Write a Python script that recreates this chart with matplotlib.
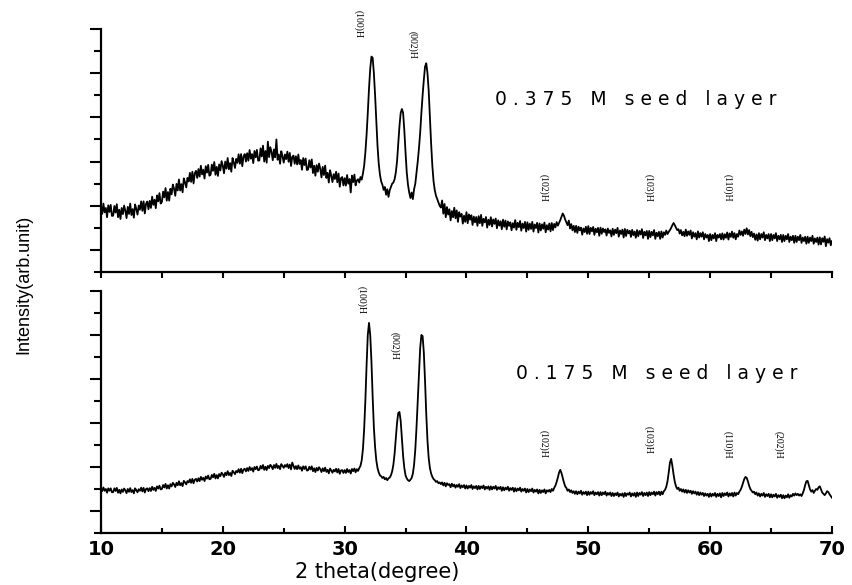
import numpy as np
import matplotlib
matplotlib.use("Agg")
import matplotlib.pyplot as plt
from matplotlib.ticker import MultipleLocator

# 2 theta sampling (degree), one point every 0.1 deg
two_theta = np.linspace(10, 70, 601)

# Intensity (arb. unit), 0.375 M seed layer
# one row = one degree (10.0 ... 10.9, 11.0 ... 11.9, ...)
intensity_0375 = [
    299, 263, 310, 270, 290, 248, 302, 272, 304, 254,
    255, 299, 269, 307, 248, 282, 240, 290, 262, 301,
    278, 244, 295, 263, 310, 258, 285, 246, 306, 286,
    260, 301, 282, 320, 277, 320, 265, 309, 319, 284,
    322, 290, 341, 304, 327, 289, 347, 320, 357, 310,
    317, 364, 338, 380, 323, 362, 323, 377, 352, 396,
    377, 345, 399, 369, 419, 369, 398, 361, 424, 406,
    383, 426, 410, 449, 408, 454, 401, 447, 458, 426,
    466, 432, 481, 442, 463, 423, 479, 450, 485, 436,
    441, 486, 458, 498, 440, 476, 435, 487, 460, 502,
    481, 447, 500, 468, 516, 465, 493, 454, 516, 496,
    471, 512, 494, 533, 490, 534, 479, 523, 534, 500,
    538, 504, 552, 513, 534, 493, 548, 519, 553, 504,
    505, 560, 523, 572, 500, 548, 495, 590, 520, 565,
    544, 506, 555, 519, 600, 508, 532, 490, 547, 524,
    495, 532, 511, 545, 499, 539, 480, 521, 527, 490,
    524, 487, 532, 489, 507, 463, 516, 484, 514, 462,
    464, 506, 473, 510, 448, 481, 436, 484, 454, 491,
    467, 428, 476, 439, 482, 426, 449, 405, 461, 437,
    407, 443, 421, 454, 406, 446, 386, 425, 430, 392,
    425, 391, 439, 400, 421, 360, 436, 407, 441, 392,
    414, 420, 405, 430, 418, 445, 480, 540, 620, 720,
    830, 920, 975, 970, 900, 800, 680, 570, 490, 440,
    410, 395, 372, 385, 350, 375, 340, 370, 385, 400,
    405, 420, 450, 500, 580, 660, 720, 738, 720, 640,
    540, 450, 395, 360, 335, 360, 330, 375, 400, 450,
    500, 560, 630, 720, 800, 870, 930, 945, 900, 820,
    700, 580, 480, 410, 370, 345, 330, 315, 300, 292,
    324, 264, 308, 248, 294, 260, 284, 234, 276, 248,
    291, 243, 279, 227, 271, 251, 263, 219, 255, 227,
    271, 221, 261, 237, 257, 213, 251, 225, 249, 209,
    253, 221, 259, 209, 241, 225, 249, 201, 237, 213,
    248, 206, 238, 218, 242, 198, 234, 210, 230, 194,
    237, 205, 233, 193, 229, 209, 225, 189, 221, 201,
    235, 191, 223, 203, 231, 187, 219, 199, 227, 183,
    225, 191, 219, 195, 227, 183, 215, 199, 223, 179,
    220, 188, 216, 196, 224, 180, 212, 192, 220, 184,
    222, 190, 218, 202, 226, 210, 222, 235, 250, 265,
    255, 238, 225, 212, 233, 197, 217, 189, 209, 181,
    209, 177, 205, 189, 201, 169, 197, 181, 205, 173,
    208, 172, 200, 184, 204, 168, 196, 180, 200, 164,
    201, 173, 197, 181, 193, 165, 197, 177, 189, 161,
    196, 168, 192, 176, 200, 160, 188, 172, 192, 156,
    195, 163, 191, 175, 187, 159, 191, 167, 183, 155,
    190, 162, 186, 170, 194, 154, 182, 166, 186, 150,
    186, 158, 182, 166, 190, 150, 178, 162, 182, 150,
    184, 156, 180, 168, 188, 172, 182, 190, 200, 212,
    222, 212, 200, 190, 194, 174, 190, 166, 182, 162,
    192, 164, 184, 168, 188, 152, 180, 160, 176, 148,
    184, 156, 176, 160, 180, 148, 172, 156, 168, 140,
    172, 144, 168, 152, 176, 140, 168, 156, 172, 148,
    175, 147, 171, 155, 179, 147, 175, 159, 183, 155,
    176, 148, 172, 160, 188, 168, 184, 164, 192, 172,
    198, 170, 190, 162, 182, 158, 174, 146, 170, 142,
    176, 148, 172, 156, 180, 144, 168, 152, 172, 140,
    172, 144, 168, 152, 176, 140, 164, 148, 168, 136,
    168, 140, 164, 148, 172, 136, 160, 144, 164, 132,
    164, 136, 160, 144, 168, 132, 156, 140, 160, 128,
    160, 132, 156, 140, 164, 128, 152, 136, 156, 124,
    157, 125, 153, 137, 161, 117, 149, 133, 153, 121,
    140,
]

# Intensity (arb. unit), 0.175 M seed layer
intensity_0175 = [
    204, 190, 207, 192, 200, 183, 203, 192, 203, 185,
    186, 203, 191, 205, 183, 196, 180, 198, 187, 202,
    194, 181, 200, 187, 204, 186, 195, 180, 203, 195,
    185, 199, 192, 206, 189, 205, 184, 200, 203, 190,
    204, 191, 210, 196, 205, 191, 212, 202, 215, 198,
    200, 218, 207, 223, 202, 217, 202, 222, 212, 228,
    221, 209, 228, 217, 235, 217, 227, 213, 237, 230,
    221, 236, 230, 244, 228, 246, 226, 242, 246, 234,
    249, 236, 255, 242, 251, 236, 257, 247, 261, 244,
    246, 264, 253, 269, 248, 263, 248, 268, 258, 274,
    267, 255, 274, 263, 281, 263, 273, 259, 283, 276,
    267, 282, 276, 290, 274, 292, 272, 288, 292, 280,
    295, 282, 300, 286, 295, 279, 300, 290, 302, 285,
    287, 305, 293, 309, 287, 301, 286, 305, 295, 310,
    303, 290, 309, 296, 314, 295, 305, 290, 313, 305,
    296, 309, 301, 313, 295, 311, 289, 320, 305, 291,
    304, 290, 307, 292, 299, 283, 303, 291, 303, 284,
    285, 301, 289, 303, 281, 294, 277, 296, 284, 299,
    290, 277, 294, 281, 297, 278, 287, 271, 293, 284,
    274, 287, 280, 292, 275, 291, 269, 284, 286, 273,
    286, 273, 291, 277, 286, 270, 291, 281, 293, 276,
    290, 282, 295, 305, 330, 380, 470, 600, 760, 900,
    955, 900, 780, 620, 480, 390, 330, 295, 275, 262,
    258, 250, 255, 244, 250, 240, 248, 252, 262, 280,
    310, 360, 430, 500, 545, 550, 510, 430, 350, 295,
    262, 248, 240, 236, 242, 250, 270, 310, 380, 480,
    600, 730, 840, 900, 895, 820, 690, 540, 420, 340,
    295, 270, 255, 245, 240, 232, 236, 226, 230, 222,
    230, 216, 228, 212, 226, 218, 222, 208, 224, 212,
    220, 206, 218, 210, 222, 204, 216, 208, 218, 202,
    216, 202, 214, 206, 218, 200, 212, 204, 214, 198,
    214, 200, 212, 204, 216, 198, 210, 202, 212, 196,
    212, 198, 210, 202, 214, 196, 208, 200, 210, 192,
    208, 194, 206, 198, 210, 192, 204, 196, 206, 188,
    204, 190, 202, 194, 206, 188, 200, 192, 202, 184,
    200, 186, 198, 190, 202, 184, 196, 188, 198, 180,
    196, 182, 194, 186, 198, 180, 194, 188, 196, 186,
    200, 192, 205, 215, 232, 252, 275, 287, 272, 250,
    230, 212, 205, 192, 198, 186, 194, 182, 190, 178,
    190, 176, 188, 180, 192, 174, 186, 178, 188, 172,
    188, 174, 186, 178, 190, 172, 184, 176, 186, 170,
    186, 172, 184, 176, 188, 170, 182, 174, 184, 168,
    182, 168, 180, 172, 184, 166, 178, 170, 180, 164,
    182, 168, 180, 174, 184, 166, 180, 170, 182, 164,
    184, 168, 182, 174, 186, 168, 182, 172, 184, 168,
    186, 172, 184, 176, 188, 170, 186, 176, 188, 172,
    188, 176, 190, 196, 210, 235, 275, 320, 337, 305,
    265, 232, 212, 200, 206, 192, 200, 188, 198, 184,
    196, 182, 194, 184, 192, 178, 190, 180, 188, 174,
    186, 172, 184, 174, 182, 168, 180, 170, 178, 164,
    180, 166, 178, 170, 182, 164, 178, 168, 180, 162,
    182, 168, 180, 172, 184, 166, 180, 170, 182, 166,
    184, 170, 182, 176, 188, 196, 210, 228, 245, 255,
    250, 235, 215, 200, 192, 184, 188, 176, 184, 170,
    180, 166, 178, 170, 182, 164, 176, 168, 178, 162,
    176, 162, 174, 166, 178, 160, 172, 164, 174, 158,
    172, 158, 170, 162, 176, 160, 172, 166, 178, 170,
    180, 172, 178, 170, 176, 168, 180, 196, 218, 235,
    237, 218, 198, 188, 195, 182, 192, 200, 196, 208,
    212, 198, 184, 178, 172, 180, 190, 186, 176, 168,
    160,
]

# Peak labels (hexagonal reflections)
labels_0375 = ["(100)H", "(002)H", "(102)H", "(103)H", "(110)H"]
labels_0175 = ["(100)H", "(002)H", "(102)H", "(103)H", "(110)H", "(202)H"]
x_ticks = [10, 20, 30, 40, 50, 60, 70]


def spaced(text):
    # the original caption is drawn with wide letter spacing
    return "   ".join(" ".join(word) for word in text.split(" "))


def style_axis(ax, show_xlabels):
    ax.set_xlim(10, 70)
    ax.set_ylim(0, 1100)
    ax.spines["top"].set_visible(False)
    ax.spines["right"].set_visible(False)
    ax.spines["left"].set_linewidth(1.6)
    ax.spines["bottom"].set_linewidth(1.6)
    ax.set_xticks(x_ticks)
    ax.xaxis.set_minor_locator(MultipleLocator(5))
    ax.set_yticks([100, 300, 500, 700, 900, 1100])
    ax.set_yticks([0, 200, 400, 600, 800, 1000], minor=True)
    ax.tick_params(axis="y", which="major", direction="out", length=8, width=1.5, labelleft=False)
    ax.tick_params(axis="y", which="minor", direction="out", length=5, width=1.5)
    if show_xlabels:
        ax.tick_params(axis="x", which="major", direction="in", length=5, width=1.5, pad=5)
        ax.tick_params(axis="x", which="minor", direction="in", length=3.5, width=1.5)
        ax.set_xticklabels([str(t) for t in x_ticks], fontsize=14, fontweight="bold")
    else:
        ax.tick_params(axis="x", which="major", direction="out", length=4, width=1.5, labelbottom=False)
        ax.tick_params(axis="x", which="minor", direction="out", length=4, width=1.5)


fig = plt.figure(figsize=(8.52, 5.85), dpi=100)
ax_top = fig.add_axes([0.1185, 0.535, 0.858, 0.4154])
ax_bot = fig.add_axes([0.1185, 0.0889, 0.858, 0.4137])

ax_top.plot(two_theta, intensity_0375, color="black", linewidth=1.3)
ax_bot.plot(two_theta, intensity_0175, color="black", linewidth=1.3)

style_axis(ax_top, False)
style_axis(ax_bot, True)

# peak annotations, rotated serif text
peak_font = dict(fontsize=7, family="Liberation Serif", rotation=270,
                 ha="center", va="center", clip_on=False)
top_pos = [(31.1, 1123), (35.6, 1028), (46.3, 380), (54.9, 380), (61.4, 380)]
for lab, (px, py) in zip(labels_0375, top_pos):
    ax_top.text(px, py, lab, **peak_font)
bot_pos = [(31.4, 1059), (34.1, 850), (46.3, 405), (54.9, 423), (61.4, 400), (65.6, 400)]
for lab, (px, py) in zip(labels_0175, bot_pos):
    ax_bot.text(px, py, lab, **peak_font)

ax_top.text(53.9, 779, spaced("0.375 M seed layer"), fontsize=13.5,
            ha="center", va="center")
ax_bot.text(55.6, 727, spaced("0.175 M seed layer"), fontsize=13.5,
            ha="center", va="center")

fig.text(0.028, 0.514, "Intensity(arb.unit)", rotation=90, ha="center", va="center",
         fontsize=13, family="Liberation Sans")
fig.text(0.4425, 0.022, "2 theta(degree)", ha="center", va="center", fontsize=15)

fig.savefig("out.png", dpi=100)
plt.close(fig)
